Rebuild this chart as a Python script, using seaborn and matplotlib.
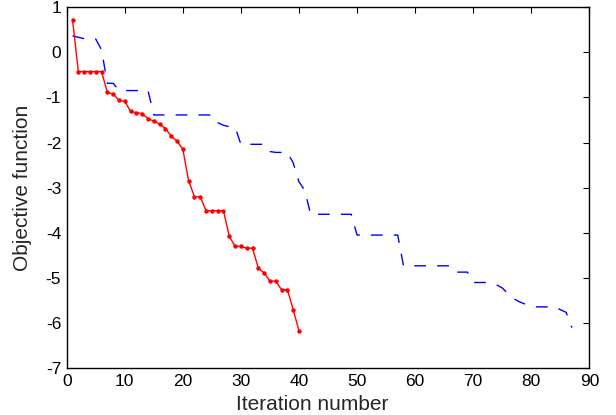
import numpy as np
import pandas as pd
import seaborn as sns
import matplotlib
matplotlib.use('Agg')
import matplotlib.pyplot as plt

# objective value per iteration, red solid series (with dots)
red_vals = [0.72, -0.43, -0.43, -0.43, -0.43, -0.43, -0.89, -0.93, -1.06, -1.09,
            -1.31, -1.34, -1.36, -1.47, -1.53, -1.59, -1.69, -1.86, -1.97, -2.15,
            -2.85, -3.20, -3.20, -3.51, -3.51, -3.51, -3.51, -4.08, -4.30, -4.30,
            -4.34, -4.34, -4.78, -4.89, -5.07, -5.07, -5.26, -5.26, -5.70, -6.17]

# blue dashed series
blue_vals = [0.36, 0.33, 0.30, 0.29, 0.29, 0.05, -0.69, -0.69, -0.84, -0.85,
             -0.85, -0.85, -0.85, -0.85, -1.39, -1.39, -1.39, -1.39, -1.39, -1.39,
             -1.39, -1.39, -1.39, -1.39, -1.39, -1.56, -1.62, -1.65, -1.66, -2.04,
             -2.04, -2.04, -2.04, -2.04, -2.20, -2.22, -2.22, -2.22, -2.45, -2.87,
             -3.06, -3.59, -3.59, -3.59, -3.59, -3.59, -3.59, -3.59, -3.59, -4.05,
             -4.05, -4.05, -4.05, -4.05, -4.05, -4.05, -4.05, -4.73, -4.73, -4.73,
             -4.73, -4.73, -4.73, -4.73, -4.73, -4.73, -4.87, -4.87, -4.87, -5.10,
             -5.10, -5.10, -5.11, -5.15, -5.22, -5.35, -5.46, -5.53, -5.58, -5.62,
             -5.64, -5.64, -5.64, -5.64, -5.70, -5.76, -6.10]

x_ticks = list(range(0, 91, 10))
y_ticks = list(range(-7, 2))

red_df = pd.DataFrame({'iter': np.arange(1, len(red_vals) + 1), 'obj': red_vals})
blue_df = pd.DataFrame({'iter': np.arange(1, len(blue_vals) + 1), 'obj': blue_vals})

sns.set_style('white')
plt.rcParams['font.family'] = ['Liberation Sans', 'DejaVu Sans']
plt.rcParams['axes.unicode_minus'] = False

fig = plt.figure(figsize=(6.16, 4.15), dpi=100)
ax = fig.add_axes([0.1083, 0.1125, 0.8484, 0.8706])

sns.lineplot(data=blue_df, x='iter', y='obj', color='#0000ff', linewidth=1.0, ax=ax)
ax.lines[-1].set_dashes((8.5, 8))
sns.lineplot(data=red_df, x='iter', y='obj', color='#ff0000', linewidth=1.0,
             marker='o', markersize=3.2, markeredgewidth=0, ax=ax)

ax.set_xlim(0, 90)
ax.set_ylim(-7, 1)
ax.set_xticks(x_ticks)
ax.set_yticks(y_ticks)
ax.tick_params(direction='in', length=4, width=0.8, labelsize=12.5, pad=4,
               top=True, right=True, colors='black')
for s in ax.spines.values():
    s.set_linewidth(1.0)
    s.set_color('black')

ax.set_xlabel('Iteration number', fontsize=15, va='center')
ax.set_ylabel('Objective function', fontsize=15, va='center')
ax.xaxis.set_label_coords(0.469, -0.099)
ax.yaxis.set_label_coords(-0.0855, 0.5)

plt.savefig('out.png', dpi=100)
